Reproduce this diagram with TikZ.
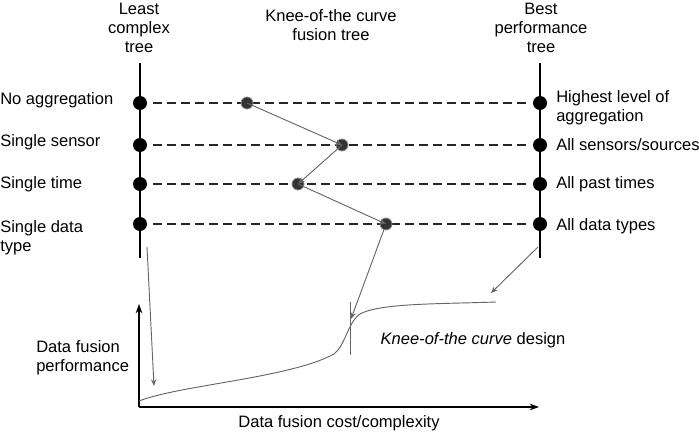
\documentclass[tikz,border=0pt]{standalone}
\usepackage{fontspec}
\setmainfont{Liberation Sans}
\usetikzlibrary{arrows.meta}
\begin{document}
\begin{tikzpicture}[x=0.75pt, y=-0.75pt,
		txt/.style={font=\fontsize{12.4}{14.5}\selectfont, inner sep=0pt},
		dot/.style={circle, fill=black, inner sep=0pt, minimum size=10.5pt},
		kneedot/.style={circle, fill=black!80, draw=black!45, line width=0.6pt, inner sep=0pt, minimum size=9pt},
		path/.style={draw=black!60, line width=0.7pt, -{Stealth[length=5pt, width=4pt]}},
		axis/.style={black, line width=0.9pt, -{Stealth[length=7pt, width=5pt]}}]
			\useasboundingbox (0,0) rectangle (699,432);
			% top labels
			\node[txt, align=center] (least) at (139,28) {Least\\complex\\tree};
			\node[txt, align=center] (kneetree) at (331,25) {Knee-of-the curve\\fusion tree};
			\node[txt, align=center] (best) at (541,28) {Best\\performance\\tree};
			% the two trees
			\draw[line width=1.1pt] (140,63) -- (140,258);
			\draw[line width=1.1pt] (540,63) -- (540,258);
			\foreach \y/\n in {103/1,145/2,184/3,224/4}{
				\node[dot] (l\n) at (140,\y) {};
				\node[dot] (r\n) at (540,\y) {};
				\draw[black!85, line width=0.9pt, dash pattern=on 7pt off 3.5pt, shorten <=4pt, shorten >=4pt] (l\n) -- (r\n);}
			% left and right texts
			\node[txt, anchor=west] (noagg) at (0,100) {No aggregation};
			\node[txt, anchor=west] (sensor) at (0,142) {Single sensor};
			\node[txt, anchor=west] (time) at (0,184) {Single time};
			\node[txt, anchor=west, align=left] (dtype) at (0,238) {Single data\\type};
			\node[txt, anchor=west, align=left] (highest) at (556,108) {Highest level of\\aggregation};
			\node[txt, anchor=west] (allsens) at (556,145) {All sensors/sources};
			\node[txt, anchor=west] (alltimes) at (556,184) {All past times};
			\node[txt, anchor=west] (alltypes) at (556,226) {All data types};
			% knee-of-the-curve tree
			\node[kneedot] (k1) at (247,103) {};
			\node[kneedot] (k2) at (342,145) {};
			\node[kneedot] (k3) at (298,184) {};
			\node[kneedot] (k4) at (386,224) {};
			\draw[path] (k1.center) -- (k2.center);
			\draw[path] (k2.center) -- (k3.center);
			\draw[path] (k3.center) -- (k4.center);
			% performance curve
			\draw[axis] (139,407) -- (139,304);
			\draw[axis] (139,407) -- (539,407);
			\draw[black!60, line width=0.7pt] (139,401) .. controls (180,385) and (290,378) .. (334,354)
				.. controls (345,346) and (348,322) .. (360,314) .. controls (380,303) and (440,304) .. (496,302);
			\coordinate (knee) at (351,319);
			\draw[black!60, line width=0.7pt] (350,302) -- (350,355);
			\coordinate (lfrom) at (147,247);
			\coordinate (lto) at (154,386);
			\coordinate (rfrom) at (538,247);
			\coordinate (rto) at (491,293);
			\draw[path] (k4) -- (knee);
			\draw[path] (lfrom) -- (lto);
			\draw[path] (rfrom) -- (rto);
			\node[txt] (kneedesign) at (473,340) {\textit{Knee-of-the curve} design};
			\node[txt, anchor=west, align=left] (perf) at (36,358) {Data fusion\\performance};
			\node[txt] (cost) at (339,423) {Data fusion cost/complexity};
		\end{tikzpicture}
\end{document}
